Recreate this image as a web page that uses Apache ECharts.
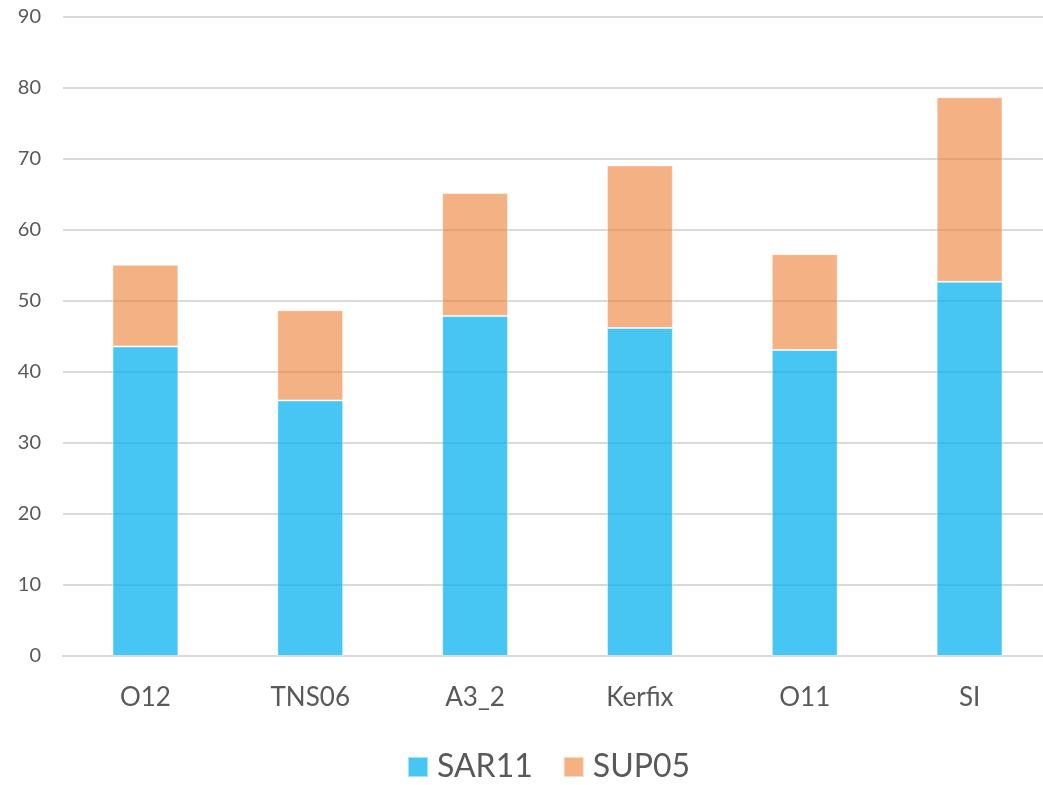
<!DOCTYPE html>
<html>
<head>
<meta charset="utf-8">
<script src="https://cdn.jsdelivr.net/npm/echarts@6/dist/echarts.min.js"></script>
<style>
  html, body { margin: 0; padding: 0; background: #fff; }
  #chart { width: 1043px; height: 785px; }
</style>
</head>
<body>
<div id="chart"></div>
<script>
// Sample sites and the two clade abundances stacked per site
const categories = ['O12', 'TNS06', 'A3_2', 'Kerfix', 'O11', 'SI'];
const sar11 = [43.6, 36.0, 47.9, 46.2, 43.1, 52.7];
const sup05 = [11.5, 12.7, 17.3, 22.9, 13.5, 26.0];
const yTicks = { min: 0, max: 90, interval: 10 };

const fontFamily = 'Lato, "Open Sans", sans-serif';
const chart = echarts.init(document.getElementById('chart'), null, { renderer: 'canvas' });

chart.setOption({
  animation: false,
  grid: {
    left: 63, top: 17, right: -9, bottom: 129,
    containLabel: false,
    outerBoundsMode: 'none'
  },
  legend: {
    top: 751,
    left: 407,
    padding: 0,
    itemWidth: 20,
    itemHeight: 20,
    itemGap: 30,
    icon: 'rect',
    textStyle: { fontSize: 32, color: '#595959', fontFamily: fontFamily, padding: [0, 0, 0, 4] },
    data: ['SAR11', 'SUP05']
  },
  xAxis: {
    type: 'category',
    data: categories,
    axisLine: { lineStyle: { color: '#d9d9d9', width: 2 } },
    axisTick: { show: false },
    axisLabel: { fontSize: 26, color: '#595959', margin: 29, fontFamily: fontFamily }
  },
  yAxis: {
    type: 'value',
    min: yTicks.min,
    max: yTicks.max,
    interval: yTicks.interval,
    axisLine: { show: false },
    axisTick: { show: false },
    splitLine: { lineStyle: { color: '#d9d9d9', width: 2 } },
    axisLabel: { fontSize: 20, color: '#595959', margin: 22, fontFamily: fontFamily }
  },
  series: [
    {
      name: 'SAR11',
      type: 'bar',
      stack: 'total',
      barWidth: '40%',
      data: sar11,
      itemStyle: { color: 'rgba(0,176,240,0.72)', borderColor: 'rgba(255,255,255,0.5)', borderWidth: 1 }
    },
    {
      name: 'SUP05',
      type: 'bar',
      stack: 'total',
      barWidth: '40%',
      data: sup05,
      itemStyle: { color: 'rgba(237,125,49,0.6)', borderColor: 'rgba(255,255,255,0.5)', borderWidth: 1 }
    }
  ]
});
</script>
</body>
</html>
